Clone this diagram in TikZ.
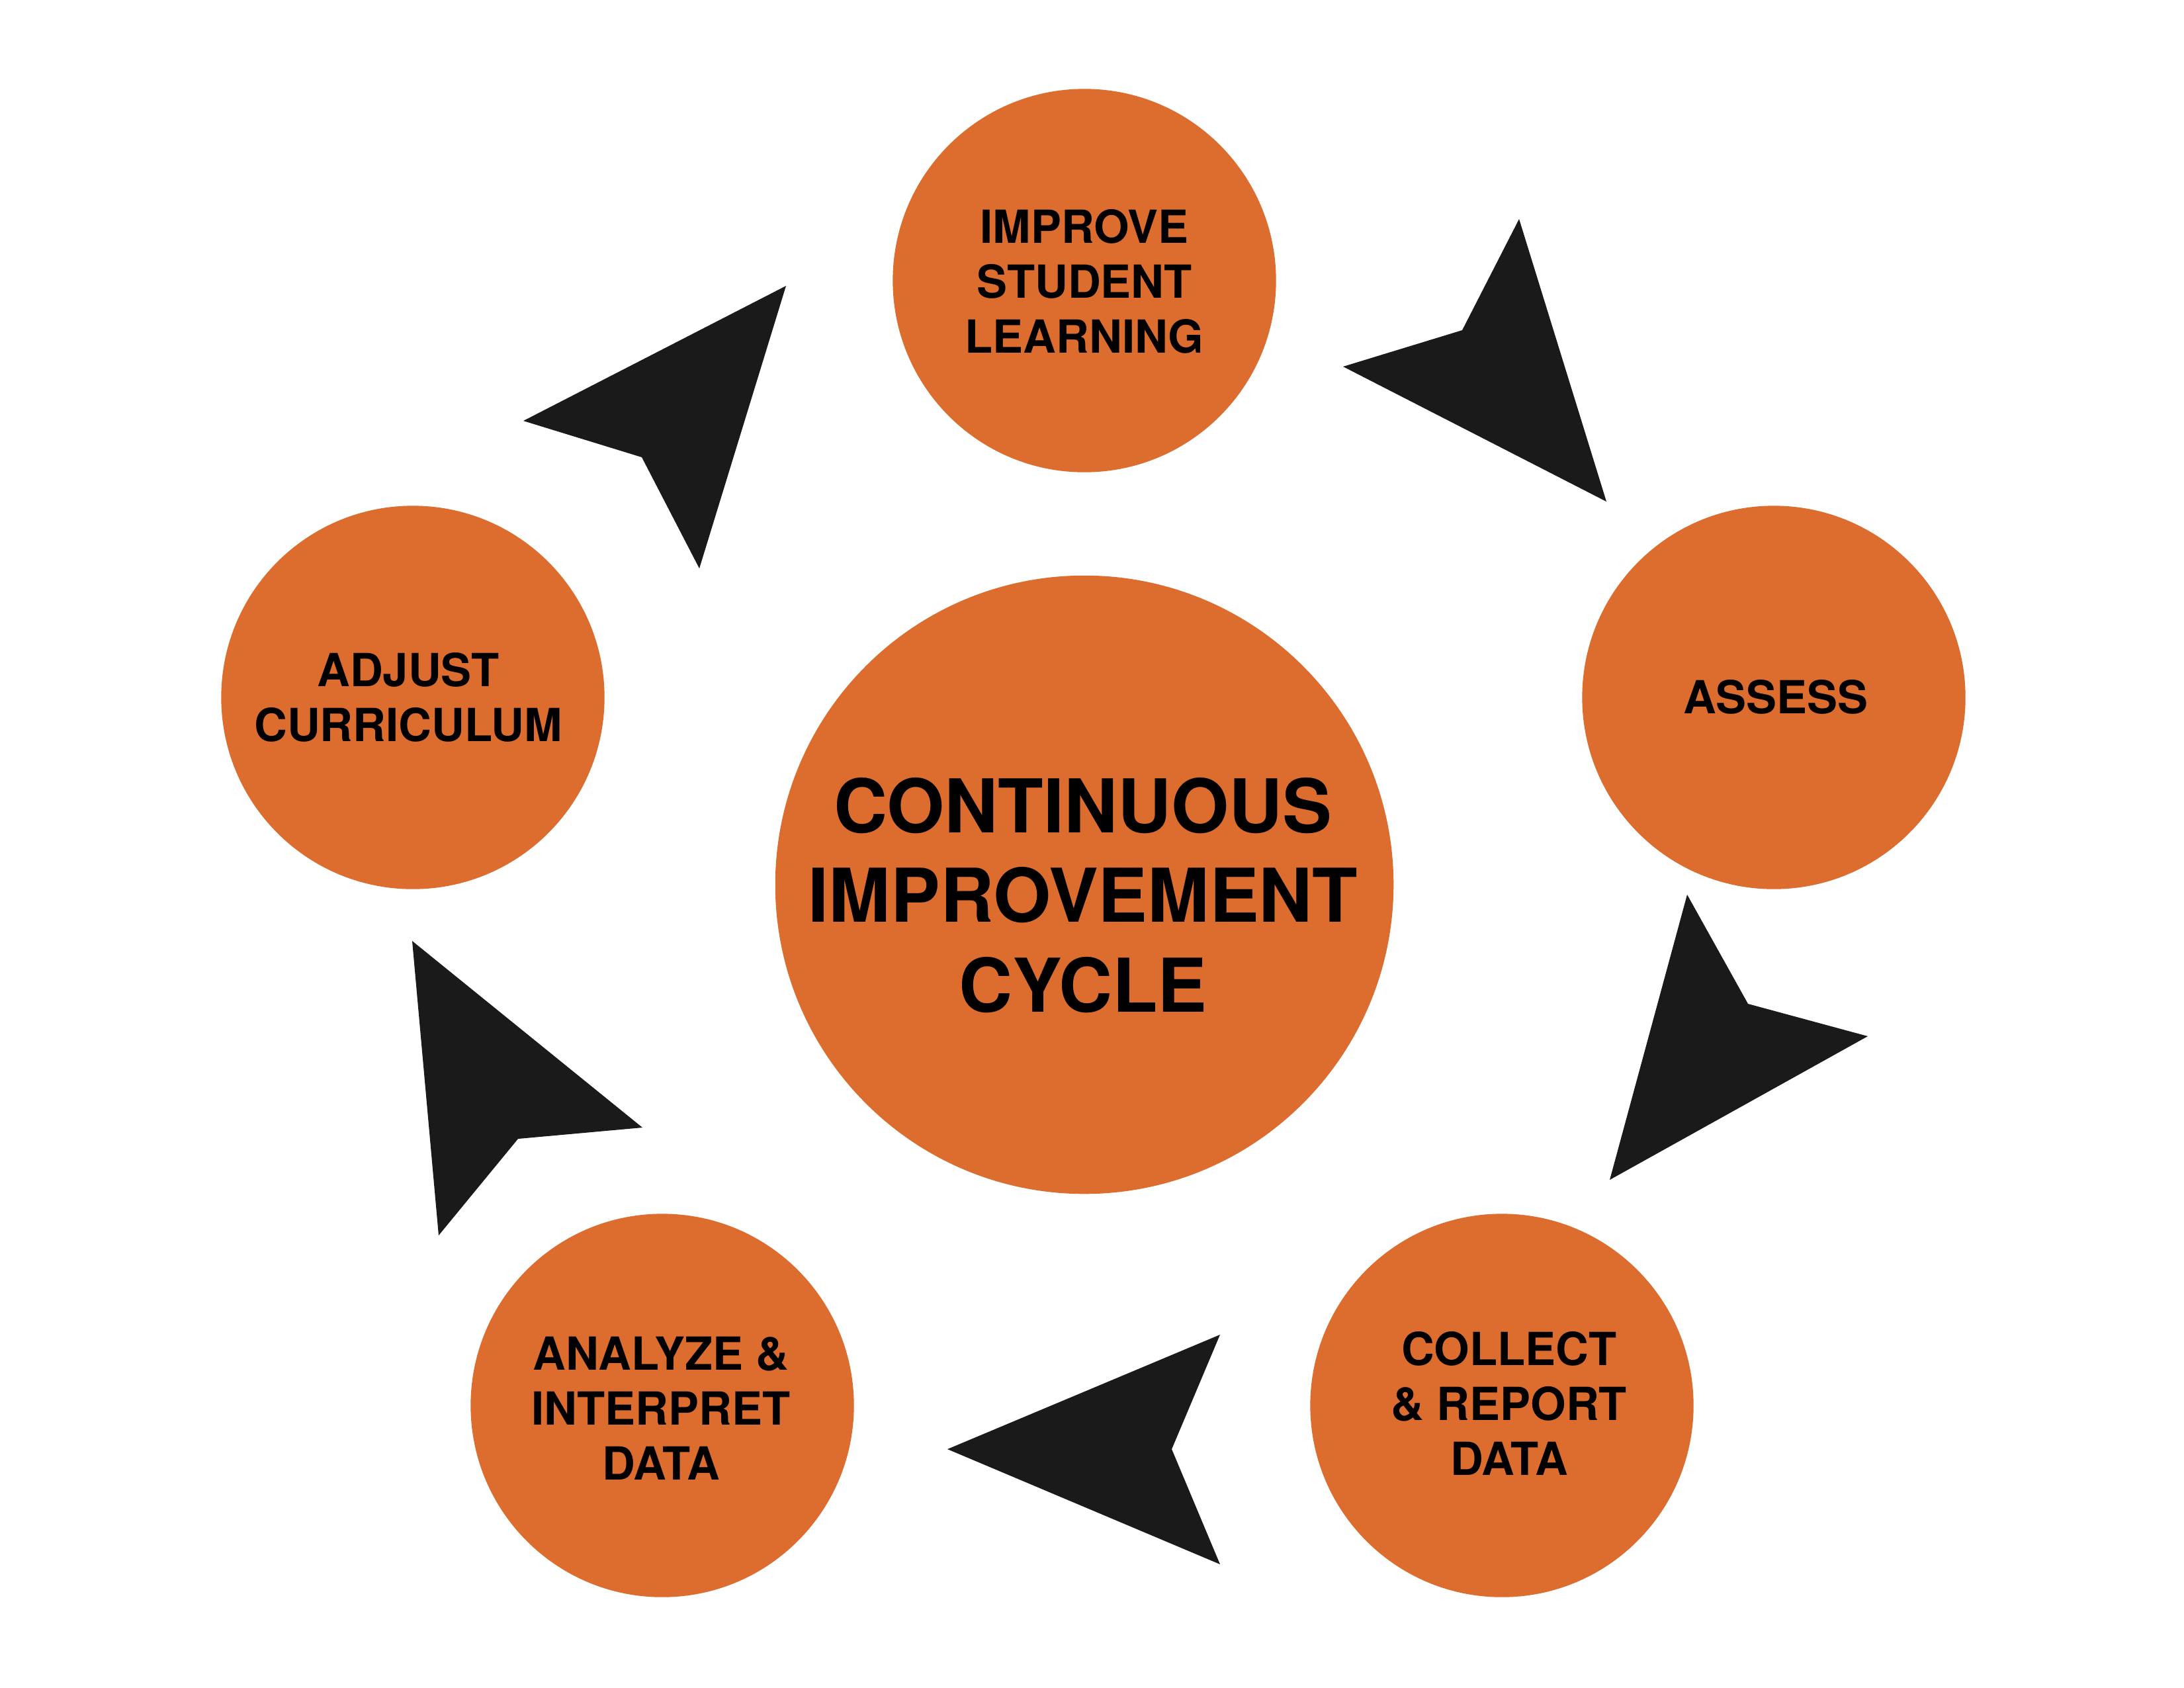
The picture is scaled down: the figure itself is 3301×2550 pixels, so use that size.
\documentclass[tikz,border=0pt]{standalone}
\usepackage{fontspec}
\setmainfont{TeX Gyre Heros}
\definecolor{cycorange}{RGB}{221,108,47}
\definecolor{arrowblack}{RGB}{26,26,26}
\begin{document}
\begin{tikzpicture}[x=0.01cm,y=-0.01cm,
  stage/.style={circle,fill=cycorange,minimum size=5.79cm,inner sep=0pt},
  hub/.style={circle,fill=cycorange,minimum size=9.34cm,inner sep=0pt},
  stagetext/.style={align=center,inner sep=0pt,text=black,font=\bfseries\fontsize{19.6pt}{23.6pt}\selectfont},
  hubtext/.style={align=center,inner sep=0pt,text=black,font=\bfseries\fontsize{31.9pt}{38.55pt}\selectfont},
  bigarrow/.style={fill=arrowblack}]
\useasboundingbox[fill=white] (0,0) rectangle (3301,2550);
% circles
\node[hub] (hub) at (1639,1337) {};
\node[stage] (improve) at (1639,424) {};
\node[stage] (assess) at (2681,1054) {};
\node[stage] (adjust) at (624,1054) {};
\node[stage] (analyze) at (1001,2124) {};
\node[stage] (collect) at (2270,2124) {};
% texts
\node[hubtext] (hubtxt) at (1637,1353) {CONTINUOUS\\IMPROVEMENT\\CYCLE};
\node[stagetext] (improvetxt) at (1639,425) {IMPROVE\\STUDENT\\LEARNING};
\node[stagetext] (assesstxt) at (2684,1053) {ASSESS};
\node[stagetext] (adjusttxt) at (617,1054) {ADJUST\\CURRICULUM};
\node[stagetext] (analyzetxt) at (999,2128) {ANALYZE \&\\INTERPRET\\DATA};
\node[stagetext] (collecttxt) at (2281,2121) {COLLECT\\\& REPORT\\DATA};
% arrows
\fill[bigarrow] (2296,331) -- (2428,758) -- (2030,554) -- (2210,499) -- cycle;
\fill[bigarrow] (2550,1352) -- (2642,1517) -- (2823,1566) -- (2433,1783) -- cycle;
\fill[bigarrow] (1432,2190) -- (1844,2017) -- (1771,2190) -- (1844,2364) -- cycle;
\fill[bigarrow] (623,1422) -- (971,1704) -- (783,1721) -- (663,1867) -- cycle;
\fill[bigarrow] (1188,432) -- (1057,859) -- (970,691) -- (791,636) -- cycle;
\end{tikzpicture}
\end{document}
